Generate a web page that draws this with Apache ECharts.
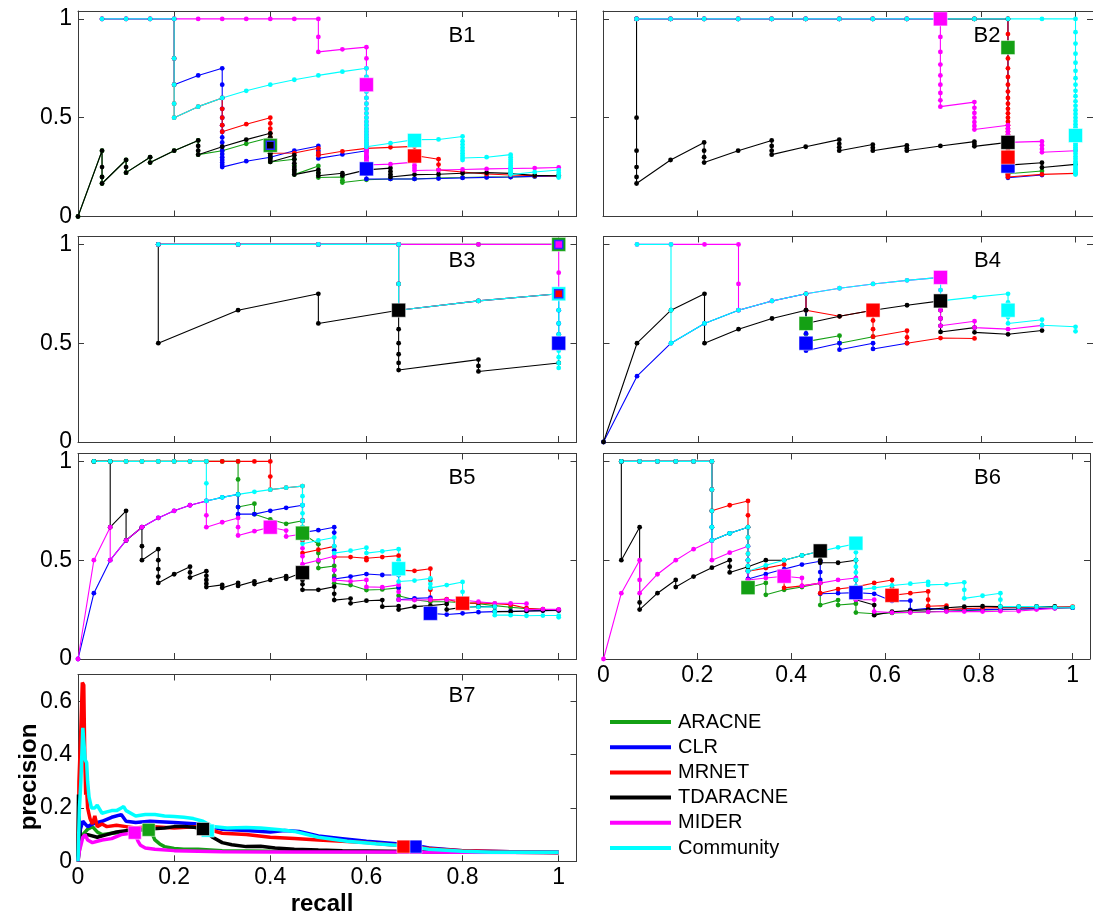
<!DOCTYPE html>
<html><head><meta charset="utf-8">
<script src="https://cdn.jsdelivr.net/npm/echarts@6/dist/echarts.min.js"></script>
<style>html,body{margin:0;padding:0;background:#fff}#c{width:1093px;height:914px}</style>
</head><body><div id="c"></div>
<script>
const METHODS = ['ARACNE','CLR','MRNET','TDARACNE','MIDER','Community'];
const COLORS = ['#14a014','#0000ff','#ff0000','#000000','#ff00ff','#00ffff'];
const PANEL_NAMES = ['B1','B2','B3','B4','B5','B6','B7'];
const X_TITLE = 'recall';
const Y_TITLE = 'precision';

// ---------- B1 ----------
const B1_ARACNE = [[0,0],[0.05,0.333],[0.05,0.2],[0.05,0.167],[0.1,0.286],[0.1,0.222],[0.15,0.3],[0.15,0.273],[0.2,0.333],[0.25,0.385],[0.25,0.313],[0.3,0.333],[0.35,0.368],[0.4,0.4],[0.4,0.36],[0.4,0.32],[0.4,0.296],[0.4,0.276],[0.45,0.29],[0.45,0.26],[0.45,0.237],[0.45,0.212],[0.5,0.256],[0.5,0.222],[0.5,0.197],[0.55,0.2],[0.55,0.183],[0.55,0.172],[0.6,0.186],[0.65,0.19],[0.7,0.19],[0.75,0.195],[0.8,0.197],[0.85,0.2],[0.9,0.2],[0.95,0.203],[1,0.206]];
const B1_CLR = [[0.05,1],[0.1,1],[0.15,1],[0.2,1],[0.2,0.8],[0.2,0.667],[0.25,0.714],[0.3,0.75],[0.3,0.667],[0.3,0.6],[0.3,0.545],[0.3,0.5],[0.3,0.462],[0.3,0.429],[0.3,0.4],[0.3,0.375],[0.3,0.353],[0.3,0.333],[0.3,0.316],[0.3,0.3],[0.3,0.286],[0.3,0.273],[0.3,0.261],[0.3,0.25],[0.35,0.28],[0.4,0.3],[0.45,0.333],[0.5,0.357],[0.5,0.333],[0.5,0.313],[0.5,0.294],[0.55,0.314],[0.6,0.333],[0.6,0.3],[0.6,0.273],[0.6,0.24],[0.6,0.214],[0.6,0.19],[0.65,0.19],[0.7,0.19],[0.75,0.192],[0.8,0.195],[0.85,0.198],[0.9,0.2],[0.95,0.203],[1,0.205]];
const B1_MRNET = [[0.05,1],[0.1,1],[0.15,1],[0.2,1],[0.2,0.8],[0.2,0.667],[0.2,0.571],[0.2,0.5],[0.25,0.556],[0.3,0.6],[0.3,0.545],[0.3,0.5],[0.3,0.462],[0.3,0.429],[0.35,0.467],[0.4,0.5],[0.4,0.471],[0.4,0.444],[0.4,0.421],[0.4,0.4],[0.4,0.381],[0.4,0.364],[0.4,0.348],[0.4,0.333],[0.4,0.32],[0.45,0.321],[0.5,0.345],[0.5,0.323],[0.5,0.31],[0.55,0.33],[0.6,0.345],[0.65,0.35],[0.7,0.355],[0.7,0.333],[0.7,0.309],[0.75,0.29],[0.75,0.263],[0.75,0.236],[0.8,0.225],[0.85,0.215],[0.9,0.21],[0.95,0.207],[1,0.205]];
const B1_TDARACNE = [[0,0],[0.05,0.333],[0.05,0.25],[0.05,0.2],[0.05,0.167],[0.1,0.286],[0.1,0.25],[0.1,0.222],[0.15,0.3],[0.15,0.273],[0.2,0.333],[0.25,0.385],[0.25,0.357],[0.25,0.333],[0.25,0.313],[0.3,0.353],[0.35,0.389],[0.4,0.421],[0.4,0.4],[0.4,0.381],[0.4,0.364],[0.4,0.348],[0.4,0.333],[0.4,0.32],[0.4,0.308],[0.4,0.296],[0.4,0.286],[0.4,0.276],[0.45,0.31],[0.45,0.29],[0.45,0.27],[0.45,0.25],[0.45,0.237],[0.45,0.225],[0.45,0.212],[0.5,0.236],[0.5,0.22],[0.5,0.206],[0.55,0.219],[0.55,0.207],[0.6,0.236],[0.65,0.245],[0.65,0.228],[0.65,0.213],[0.65,0.2],[0.7,0.212],[0.75,0.214],[0.8,0.219],[0.85,0.222],[0.9,0.218],[0.95,0.208],[1,0.206]];
const B1_MIDER = [[0.05,1],[0.1,1],[0.15,1],[0.2,1],[0.25,1],[0.3,1],[0.35,1],[0.4,1],[0.45,1],[0.5,1],[0.5,0.909],[0.5,0.833],[0.55,0.846],[0.6,0.857],[0.6,0.8],[0.6,0.75],[0.6,0.706],[0.6,0.667],[0.6,0.632],[0.6,0.6],[0.6,0.571],[0.6,0.545],[0.6,0.522],[0.6,0.5],[0.6,0.48],[0.6,0.462],[0.6,0.444],[0.6,0.429],[0.6,0.414],[0.6,0.4],[0.6,0.387],[0.6,0.375],[0.6,0.364],[0.6,0.353],[0.6,0.343],[0.6,0.333],[0.6,0.324],[0.6,0.316],[0.6,0.308],[0.6,0.3],[0.6,0.293],[0.6,0.286],[0.6,0.279],[0.6,0.273],[0.6,0.267],[0.6,0.261],[0.6,0.255],[0.65,0.265],[0.7,0.275],[0.7,0.259],[0.7,0.246],[0.7,0.233],[0.75,0.235],[0.8,0.238],[0.85,0.241],[0.9,0.243],[0.95,0.245],[1,0.248]];
const B1_Community = [[0.05,1],[0.1,1],[0.15,1],[0.2,1],[0.2,0.8],[0.2,0.667],[0.2,0.571],[0.2,0.5],[0.25,0.556],[0.3,0.6],[0.35,0.636],[0.4,0.667],[0.45,0.692],[0.5,0.714],[0.55,0.733],[0.6,0.75],[0.6,0.706],[0.6,0.667],[0.6,0.632],[0.6,0.6],[0.6,0.571],[0.6,0.545],[0.6,0.522],[0.6,0.5],[0.6,0.48],[0.6,0.462],[0.6,0.444],[0.6,0.429],[0.6,0.414],[0.6,0.4],[0.6,0.387],[0.6,0.375],[0.6,0.364],[0.6,0.353],[0.65,0.371],[0.7,0.389],[0.75,0.39],[0.8,0.405],[0.8,0.381],[0.8,0.364],[0.8,0.348],[0.8,0.333],[0.8,0.32],[0.8,0.308],[0.8,0.296],[0.8,0.286],[0.85,0.3],[0.9,0.313],[0.9,0.3],[0.9,0.288],[0.9,0.277],[0.9,0.267],[0.9,0.257],[0.9,0.248],[0.9,0.24],[0.9,0.232],[0.9,0.225],[0.9,0.218],[0.9,0.212],[0.95,0.225],[1,0.235],[1,0.222],[1,0.21],[1,0.197]];
const B1_BEST = [[0.4,0.36],[0.6,0.241],[0.7,0.306],[0.4,0.36],[0.6,0.667],[0.7,0.385]];

// ---------- B2 ----------
const B2_ARACNE = [[0.071,1],[0.143,1],[0.214,1],[0.286,1],[0.357,1],[0.429,1],[0.5,1],[0.571,1],[0.643,1],[0.714,1],[0.786,1],[0.857,1],[0.857,0.216],[0.929,0.23]];
const B2_CLR = [[0.071,1],[0.143,1],[0.214,1],[0.286,1],[0.357,1],[0.429,1],[0.5,1],[0.571,1],[0.643,1],[0.714,1],[0.786,1],[0.857,1],[0.857,0.196],[0.929,0.21]];
const B2_MRNET = [[0.071,1],[0.143,1],[0.214,1],[0.286,1],[0.357,1],[0.429,1],[0.5,1],[0.571,1],[0.643,1],[0.714,1],[0.786,1],[0.857,1],[0.857,0.923],[0.857,0.8],[0.857,0.75],[0.857,0.706],[0.857,0.667],[0.857,0.632],[0.857,0.6],[0.857,0.571],[0.857,0.545],[0.857,0.522],[0.857,0.5],[0.857,0.48],[0.857,0.462],[0.857,0.444],[0.857,0.429],[0.857,0.414],[0.857,0.4],[0.857,0.387],[0.857,0.375],[0.857,0.364],[0.857,0.353],[0.857,0.343],[0.857,0.333],[0.857,0.324],[0.857,0.316],[0.857,0.308],[0.857,0.3],[0.857,0.286],[0.857,0.273],[0.857,0.261],[0.857,0.25],[0.857,0.24],[0.857,0.231],[0.857,0.222],[0.857,0.214],[0.857,0.207],[0.857,0.2],[0.929,0.213],[1,0.218]];
const B2_TDARACNE = [[0.071,1],[0.071,0.5],[0.071,0.333],[0.071,0.25],[0.071,0.2],[0.071,0.167],[0.143,0.286],[0.214,0.375],[0.214,0.333],[0.214,0.3],[0.214,0.273],[0.286,0.333],[0.357,0.385],[0.357,0.357],[0.357,0.333],[0.357,0.313],[0.429,0.353],[0.5,0.389],[0.5,0.368],[0.5,0.35],[0.5,0.333],[0.571,0.364],[0.571,0.348],[0.571,0.333],[0.643,0.36],[0.643,0.346],[0.643,0.333],[0.714,0.357],[0.786,0.379],[0.786,0.367],[0.786,0.355],[0.857,0.375],[0.857,0.26],[0.929,0.272],[0.929,0.248],[1,0.264]];
const B2_MIDER = [[0.071,1],[0.143,1],[0.214,1],[0.286,1],[0.357,1],[0.429,1],[0.5,1],[0.571,1],[0.643,1],[0.714,1],[0.714,0.909],[0.714,0.833],[0.714,0.769],[0.714,0.714],[0.714,0.667],[0.714,0.625],[0.714,0.588],[0.714,0.556],[0.786,0.579],[0.786,0.55],[0.786,0.524],[0.786,0.5],[0.786,0.478],[0.786,0.458],[0.786,0.44],[0.857,0.462],[0.857,0.444],[0.857,0.429],[0.857,0.414],[0.857,0.4],[0.857,0.387],[0.857,0.375],[0.929,0.38],[0.929,0.361],[0.929,0.342],[0.929,0.325],[1,0.333]];
const B2_Community = [[0.071,1],[0.143,1],[0.214,1],[0.286,1],[0.357,1],[0.429,1],[0.5,1],[0.571,1],[0.643,1],[0.714,1],[0.786,1],[0.857,1],[0.929,1],[1,1],[1,0.933],[1,0.875],[1,0.824],[1,0.778],[1,0.737],[1,0.7],[1,0.667],[1,0.636],[1,0.609],[1,0.583],[1,0.56],[1,0.538],[1,0.519],[1,0.5],[1,0.483],[1,0.467],[1,0.452],[1,0.438],[1,0.424],[1,0.412],[1,0.4],[1,0.389],[1,0.378],[1,0.368],[1,0.359],[1,0.35],[1,0.341],[1,0.333],[1,0.318],[1,0.304],[1,0.292],[1,0.28],[1,0.269],[1,0.259],[1,0.25],[1,0.241],[1,0.233],[1,0.226],[1,0.219],[1,0.212]];
const B2_BEST = [[0.857,0.855],[0.857,0.255],[0.857,0.3],[0.857,0.375],[0.714,1],[1,0.41]];

// ---------- B3 ----------
const B3_ARACNE = [[0.167,1],[0.333,1],[0.5,1],[0.667,1],[0.833,1],[1,1]];
const B3_CLR = [[0.167,1],[0.333,1],[0.5,1],[0.667,1],[0.667,0.8],[0.667,0.667],[0.833,0.714],[1,0.75],[1,0.667],[1,0.6],[1,0.545],[1,0.5]];
const B3_MRNET = [[0.167,1],[0.333,1],[0.5,1],[0.667,1],[0.667,0.8],[0.667,0.667],[0.833,0.714],[1,0.75]];
const B3_TDARACNE = [[0.167,1],[0.167,0.5],[0.333,0.667],[0.5,0.75],[0.5,0.6],[0.667,0.667],[0.667,0.571],[0.667,0.5],[0.667,0.444],[0.667,0.4],[0.667,0.364],[0.833,0.417],[0.833,0.385],[0.833,0.357],[1,0.4]];
const B3_MIDER = [[0.167,1],[0.333,1],[0.5,1],[0.667,1],[0.833,1],[1,1],[1,0.857],[1,0.75]];
const B3_Community = [[0.167,1],[0.333,1],[0.5,1],[0.667,1],[0.667,0.8],[0.667,0.667],[0.833,0.714],[1,0.75],[1,0.667],[1,0.6],[1,0.545],[1,0.5],[1,0.462],[1,0.429],[1,0.4],[1,0.375]];
const B3_BEST = [[1,1],[1,0.5],[1,0.75],[0.667,0.667],[1,1],[1,0.75]];

// ---------- B4 ----------
const B4_ARACNE = [[0.429,0.75],[0.429,0.667],[0.429,0.6],[0.429,0.545],[0.429,0.508],[0.5,0.538],[0.5,0.5],[0.571,0.533]];
const B4_CLR = [[0,0],[0.071,0.333],[0.143,0.5],[0.214,0.6],[0.286,0.667],[0.357,0.714],[0.429,0.75],[0.429,0.667],[0.429,0.6],[0.429,0.549],[0.429,0.5],[0.429,0.462],[0.5,0.5],[0.5,0.467],[0.571,0.5],[0.571,0.471],[0.643,0.5]];
const B4_MRNET = [[0.429,0.75],[0.429,0.667],[0.5,0.636],[0.571,0.667],[0.571,0.615],[0.571,0.571],[0.571,0.533],[0.643,0.563],[0.643,0.529],[0.643,0.5],[0.714,0.526],[0.786,0.524]];
const B4_TDARACNE = [[0,0],[0.071,0.5],[0.143,0.667],[0.214,0.75],[0.214,0.5],[0.286,0.571],[0.357,0.625],[0.429,0.667],[0.429,0.6],[0.5,0.636],[0.571,0.667],[0.643,0.692],[0.714,0.714],[0.714,0.667],[0.714,0.625],[0.714,0.588],[0.714,0.557],[0.786,0.579],[0.786,0.555],[0.857,0.545],[0.929,0.564]];
const B4_MIDER = [[0.071,1],[0.143,1],[0.214,1],[0.286,1],[0.286,0.8],[0.286,0.667],[0.357,0.714],[0.429,0.75],[0.5,0.778],[0.571,0.8],[0.643,0.818],[0.714,0.833],[0.714,0.769],[0.714,0.714],[0.714,0.667],[0.714,0.625],[0.714,0.588],[0.786,0.611],[0.786,0.579],[0.857,0.571],[0.929,0.59]];
const B4_Community = [[0.071,1],[0.143,1],[0.143,0.667],[0.143,0.5],[0.214,0.6],[0.286,0.667],[0.357,0.714],[0.429,0.75],[0.5,0.778],[0.571,0.8],[0.643,0.818],[0.714,0.833],[0.714,0.769],[0.714,0.714],[0.786,0.733],[0.857,0.75],[0.857,0.706],[0.857,0.667],[0.857,0.632],[0.857,0.6],[0.929,0.619],[0.929,0.591],[1,0.583],[1,0.56]];
const B4_BEST = [[0.429,0.6],[0.429,0.5],[0.571,0.667],[0.714,0.714],[0.714,0.833],[0.857,0.667]];

// ---------- B5 ----------
const B5_ARACNE = [[0.033,1],[0.067,1],[0.1,1],[0.133,1],[0.167,1],[0.2,1],[0.233,1],[0.267,1],[0.3,1],[0.333,1],[0.333,0.909],[0.333,0.833],[0.333,0.769],[0.367,0.786],[0.367,0.733],[0.4,0.706],[0.433,0.684],[0.467,0.7],[0.467,0.667],[0.467,0.636],[0.5,0.581],[0.5,0.536],[0.5,0.493],[0.5,0.46],[0.533,0.471],[0.533,0.42],[0.533,0.383],[0.567,0.374],[0.6,0.349],[0.633,0.352],[0.667,0.36],[0.667,0.32],[0.7,0.3],[0.733,0.29],[0.767,0.29],[0.8,0.285],[0.833,0.28],[0.867,0.27],[0.9,0.262],[0.933,0.255],[0.967,0.25],[1,0.245]];
const B5_CLR = [[0,0],[0.033,0.333],[0.067,0.5],[0.1,0.6],[0.133,0.667],[0.167,0.714],[0.2,0.75],[0.233,0.778],[0.267,0.8],[0.3,0.818],[0.333,0.833],[0.333,0.769],[0.333,0.733],[0.367,0.733],[0.4,0.75],[0.433,0.765],[0.467,0.778],[0.467,0.7],[0.467,0.64],[0.5,0.652],[0.533,0.667],[0.533,0.64],[0.533,0.55],[0.533,0.45],[0.533,0.405],[0.567,0.417],[0.6,0.43],[0.633,0.425],[0.667,0.425],[0.667,0.36],[0.667,0.3],[0.7,0.307],[0.733,0.31],[0.733,0.231],[0.767,0.225],[0.8,0.231],[0.833,0.237],[0.867,0.24],[0.9,0.242],[0.933,0.243],[0.967,0.245],[1,0.246]];
const B5_MRNET = [[0.033,1],[0.067,1],[0.1,1],[0.133,1],[0.167,1],[0.2,1],[0.233,1],[0.267,1],[0.3,1],[0.333,1],[0.367,1],[0.4,1],[0.4,0.923],[0.4,0.857],[0.433,0.867],[0.467,0.875],[0.467,0.7],[0.467,0.6],[0.467,0.536],[0.5,0.553],[0.533,0.57],[0.533,0.516],[0.567,0.516],[0.6,0.51],[0.6,0.5],[0.633,0.516],[0.667,0.523],[0.667,0.45],[0.7,0.446],[0.733,0.457],[0.733,0.4],[0.733,0.35],[0.733,0.298],[0.767,0.303],[0.8,0.282],[0.833,0.284],[0.867,0.28],[0.9,0.275],[0.933,0.257],[0.967,0.252],[1,0.248]];
const B5_TDARACNE = [[0.033,1],[0.067,1],[0.067,0.667],[0.1,0.75],[0.1,0.6],[0.133,0.667],[0.133,0.571],[0.133,0.5],[0.167,0.556],[0.167,0.5],[0.167,0.455],[0.167,0.417],[0.167,0.385],[0.2,0.429],[0.233,0.467],[0.233,0.438],[0.233,0.412],[0.267,0.444],[0.267,0.421],[0.267,0.4],[0.267,0.381],[0.267,0.364],[0.3,0.375],[0.3,0.36],[0.333,0.385],[0.333,0.37],[0.367,0.393],[0.367,0.379],[0.4,0.4],[0.433,0.419],[0.433,0.406],[0.467,0.438],[0.467,0.4],[0.467,0.378],[0.467,0.35],[0.5,0.35],[0.533,0.366],[0.533,0.33],[0.533,0.298],[0.567,0.306],[0.567,0.282],[0.6,0.295],[0.633,0.298],[0.633,0.265],[0.667,0.268],[0.667,0.25],[0.7,0.265],[0.733,0.27],[0.767,0.278],[0.767,0.25],[0.8,0.262],[0.833,0.265],[0.867,0.265],[0.867,0.24],[0.9,0.24],[0.933,0.243],[0.967,0.245],[1,0.248]];
const B5_MIDER = [[0,0],[0.033,0.5],[0.067,0.667],[0.067,0.5],[0.1,0.6],[0.133,0.667],[0.167,0.714],[0.2,0.75],[0.233,0.778],[0.267,0.8],[0.267,0.727],[0.267,0.667],[0.3,0.692],[0.333,0.714],[0.333,0.667],[0.333,0.625],[0.367,0.647],[0.4,0.667],[0.433,0.65],[0.433,0.62],[0.467,0.633],[0.467,0.56],[0.467,0.52],[0.467,0.48],[0.5,0.5],[0.533,0.52],[0.533,0.45],[0.533,0.4],[0.567,0.393],[0.6,0.4],[0.6,0.365],[0.633,0.363],[0.667,0.375],[0.667,0.34],[0.667,0.3],[0.7,0.298],[0.733,0.3],[0.767,0.3],[0.8,0.298],[0.833,0.29],[0.867,0.282],[0.9,0.282],[0.933,0.28],[0.933,0.25],[0.967,0.252],[1,0.251]];
const B5_Community = [[0.033,1],[0.067,1],[0.1,1],[0.133,1],[0.167,1],[0.2,1],[0.233,1],[0.267,1],[0.267,0.889],[0.267,0.8],[0.3,0.818],[0.333,0.833],[0.367,0.846],[0.4,0.857],[0.433,0.867],[0.467,0.875],[0.467,0.824],[0.467,0.778],[0.467,0.737],[0.467,0.7],[0.467,0.667],[0.467,0.636],[0.467,0.609],[0.467,0.583],[0.5,0.6],[0.533,0.615],[0.533,0.571],[0.533,0.536],[0.567,0.548],[0.6,0.563],[0.6,0.536],[0.633,0.545],[0.667,0.556],[0.667,0.5],[0.667,0.457],[0.667,0.426],[0.667,0.392],[0.7,0.397],[0.733,0.408],[0.733,0.38],[0.733,0.36],[0.767,0.374],[0.8,0.39],[0.8,0.34],[0.8,0.3],[0.8,0.265],[0.833,0.263],[0.867,0.265],[0.867,0.24],[0.867,0.222],[0.9,0.222],[0.933,0.219],[0.967,0.22],[1,0.22],[1,0.211]];
const B5_BEST = [[0.467,0.637],[0.733,0.231],[0.8,0.282],[0.467,0.437],[0.4,0.667],[0.667,0.457]];

// ---------- B6 ----------
const B6_ARACNE = [[0.038,1],[0.077,1],[0.115,1],[0.154,1],[0.192,1],[0.231,1],[0.231,0.857],[0.231,0.75],[0.231,0.667],[0.231,0.6],[0.269,0.636],[0.308,0.667],[0.308,0.5],[0.308,0.45],[0.308,0.4],[0.308,0.361],[0.346,0.385],[0.346,0.325],[0.385,0.35],[0.423,0.364],[0.462,0.384],[0.462,0.273],[0.5,0.298],[0.5,0.273],[0.538,0.28],[0.538,0.235],[0.577,0.229],[0.615,0.233],[0.654,0.236],[0.692,0.24],[0.731,0.242],[0.769,0.245],[0.808,0.248],[0.846,0.25],[0.885,0.252],[0.923,0.255],[0.962,0.258],[1,0.26]];
const B6_CLR = [[0.038,1],[0.077,1],[0.115,1],[0.154,1],[0.192,1],[0.231,1],[0.231,0.857],[0.231,0.75],[0.231,0.667],[0.231,0.6],[0.269,0.636],[0.308,0.667],[0.308,0.5],[0.308,0.444],[0.308,0.405],[0.346,0.43],[0.385,0.455],[0.423,0.478],[0.462,0.495],[0.462,0.44],[0.462,0.4],[0.462,0.33],[0.5,0.333],[0.538,0.336],[0.577,0.33],[0.615,0.294],[0.654,0.295],[0.654,0.248],[0.692,0.256],[0.731,0.25],[0.769,0.248],[0.808,0.25],[0.846,0.252],[0.885,0.253],[0.923,0.255],[0.962,0.258],[1,0.26]];
const B6_MRNET = [[0.038,1],[0.077,1],[0.115,1],[0.154,1],[0.192,1],[0.231,1],[0.231,0.857],[0.231,0.75],[0.269,0.778],[0.308,0.8],[0.308,0.727],[0.308,0.667],[0.308,0.615],[0.308,0.571],[0.308,0.533],[0.308,0.5],[0.308,0.471],[0.308,0.444],[0.346,0.46],[0.385,0.478],[0.385,0.42],[0.385,0.36],[0.423,0.37],[0.462,0.384],[0.462,0.333],[0.5,0.354],[0.538,0.365],[0.577,0.385],[0.615,0.4],[0.615,0.36],[0.615,0.322],[0.654,0.333],[0.692,0.342],[0.692,0.3],[0.692,0.267],[0.731,0.27],[0.731,0.25],[0.769,0.255],[0.808,0.258],[0.846,0.26],[0.885,0.26],[0.923,0.262],[0.962,0.264],[1,0.265]];
const B6_TDARACNE = [[0.038,1],[0.038,0.5],[0.077,0.667],[0.077,0.286],[0.077,0.25],[0.115,0.333],[0.154,0.4],[0.154,0.364],[0.192,0.417],[0.231,0.462],[0.269,0.5],[0.269,0.467],[0.269,0.438],[0.308,0.467],[0.346,0.5],[0.385,0.5],[0.423,0.524],[0.462,0.545],[0.462,0.5],[0.462,0.487],[0.5,0.487],[0.538,0.5],[0.538,0.4],[0.538,0.3],[0.577,0.273],[0.577,0.222],[0.615,0.239],[0.654,0.245],[0.692,0.25],[0.731,0.259],[0.769,0.265],[0.808,0.267],[0.846,0.265],[0.885,0.265],[0.923,0.266],[0.962,0.266]];
const B6_MIDER = [[0,0],[0.038,0.333],[0.077,0.5],[0.077,0.4],[0.077,0.333],[0.115,0.429],[0.154,0.5],[0.192,0.556],[0.231,0.6],[0.231,0.5],[0.269,0.538],[0.308,0.571],[0.308,0.5],[0.308,0.444],[0.308,0.4],[0.346,0.41],[0.385,0.419],[0.423,0.41],[0.423,0.37],[0.462,0.384],[0.5,0.4],[0.538,0.41],[0.538,0.35],[0.538,0.3],[0.577,0.3],[0.577,0.24],[0.615,0.235],[0.654,0.235],[0.692,0.238],[0.731,0.24],[0.769,0.24],[0.808,0.24],[0.846,0.242],[0.885,0.243],[0.923,0.25],[0.962,0.256]];
const B6_Community = [[0.038,1],[0.077,1],[0.115,1],[0.154,1],[0.192,1],[0.231,1],[0.231,0.857],[0.231,0.75],[0.231,0.667],[0.231,0.6],[0.269,0.636],[0.308,0.667],[0.308,0.615],[0.308,0.571],[0.308,0.533],[0.308,0.5],[0.308,0.471],[0.308,0.444],[0.346,0.474],[0.385,0.5],[0.423,0.524],[0.462,0.545],[0.5,0.565],[0.538,0.583],[0.538,0.54],[0.538,0.5],[0.538,0.467],[0.538,0.438],[0.538,0.4],[0.538,0.368],[0.538,0.35],[0.577,0.36],[0.615,0.372],[0.654,0.381],[0.692,0.39],[0.692,0.375],[0.731,0.378],[0.769,0.388],[0.769,0.35],[0.769,0.307],[0.808,0.32],[0.846,0.333],[0.846,0.3],[0.846,0.265],[0.885,0.265],[0.923,0.265],[0.962,0.262],[1,0.262]];
const B6_BEST = [[0.308,0.361],[0.538,0.336],[0.615,0.322],[0.462,0.547],[0.385,0.419],[0.538,0.586]];

// ---------- B7 ----------
const B7_ARACNE = [[0,0],[0.005,0.07],[0.01,0.1],[0.02,0.12],[0.03,0.13],[0.04,0.11],[0.05,0.1],[0.07,0.105],[0.1,0.11],[0.12,0.115],[0.147,0.118],[0.155,0.1],[0.16,0.08],[0.17,0.065],[0.18,0.055],[0.2,0.048],[0.22,0.045],[0.25,0.045],[0.3,0.04],[0.4,0.038],[0.6,0.036],[0.8,0.035],[1,0.033]];
const B7_CLR = [[0,0],[0.005,0.12],[0.01,0.15],[0.02,0.13],[0.03,0.14],[0.05,0.15],[0.07,0.165],[0.09,0.175],[0.1,0.15],[0.12,0.145],[0.15,0.15],[0.2,0.145],[0.25,0.14],[0.3,0.12],[0.35,0.115],[0.4,0.11],[0.43,0.115],[0.46,0.112],[0.5,0.095],[0.55,0.085],[0.6,0.075],[0.65,0.068],[0.7,0.06],[0.73,0.05],[0.8,0.04],[0.9,0.036],[1,0.034]];
const B7_MRNET = [[0,0],[0.002,0.3],[0.006,0.5],[0.009,0.67],[0.012,0.66],[0.014,0.4],[0.016,0.25],[0.018,0.27],[0.02,0.2],[0.025,0.16],[0.03,0.14],[0.035,0.17],[0.04,0.13],[0.05,0.14],[0.06,0.13],[0.08,0.135],[0.1,0.13],[0.12,0.125],[0.15,0.13],[0.2,0.125],[0.25,0.13],[0.3,0.105],[0.35,0.1],[0.4,0.09],[0.45,0.085],[0.5,0.08],[0.55,0.075],[0.6,0.07],[0.65,0.062],[0.68,0.058],[0.72,0.05],[0.75,0.045],[0.8,0.04],[0.9,0.036],[1,0.033]];
const B7_TDARACNE = [[0,0],[0.001,0.25],[0.002,0.2],[0.003,0.12],[0.006,0.08],[0.01,0.09],[0.02,0.1],[0.04,0.09],[0.06,0.1],[0.08,0.11],[0.1,0.115],[0.14,0.12],[0.18,0.125],[0.2,0.13],[0.22,0.13],[0.24,0.128],[0.26,0.12],[0.28,0.09],[0.3,0.07],[0.32,0.062],[0.35,0.055],[0.38,0.056],[0.41,0.05],[0.45,0.045],[0.5,0.042],[0.55,0.04],[0.65,0.038],[0.8,0.035],[1,0.033]];
const B7_MIDER = [[0,0],[0.003,0.04],[0.006,0.06],[0.01,0.09],[0.015,0.1],[0.02,0.08],[0.03,0.07],[0.04,0.075],[0.05,0.08],[0.07,0.085],[0.09,0.1],[0.11,0.105],[0.118,0.105],[0.125,0.075],[0.13,0.06],[0.14,0.05],[0.16,0.045],[0.2,0.04],[0.25,0.038],[0.3,0.036],[0.4,0.035],[0.5,0.035],[0.6,0.035],[0.8,0.034],[1,0.033]];
const B7_Community = [[0,0],[0.003,0.2],[0.006,0.3],[0.01,0.5],[0.012,0.45],[0.015,0.38],[0.018,0.37],[0.02,0.3],[0.023,0.24],[0.028,0.2],[0.035,0.2],[0.04,0.21],[0.05,0.18],[0.06,0.185],[0.07,0.19],[0.08,0.19],[0.09,0.2],[0.095,0.205],[0.1,0.19],[0.12,0.17],[0.14,0.175],[0.16,0.175],[0.18,0.17],[0.2,0.168],[0.22,0.165],[0.24,0.16],[0.26,0.15],[0.28,0.13],[0.31,0.125],[0.35,0.127],[0.38,0.125],[0.42,0.118],[0.45,0.112],[0.5,0.09],[0.56,0.075],[0.62,0.066],[0.69,0.056],[0.73,0.045],[0.8,0.038],[0.86,0.034],[1,0.034]];
const B7_BEST = [[0.147,0.118],[0.702,0.055],[0.677,0.055],[0.26,0.121],[0.118,0.107],[0.27,0.115]];

const PANEL_LINES = [
  [B1_ARACNE,B1_CLR,B1_MRNET,B1_TDARACNE,B1_MIDER,B1_Community],
  [B2_ARACNE,B2_CLR,B2_MRNET,B2_TDARACNE,B2_MIDER,B2_Community],
  [B3_ARACNE,B3_CLR,B3_MRNET,B3_TDARACNE,B3_MIDER,B3_Community],
  [B4_ARACNE,B4_CLR,B4_MRNET,B4_TDARACNE,B4_MIDER,B4_Community],
  [B5_ARACNE,B5_CLR,B5_MRNET,B5_TDARACNE,B5_MIDER,B5_Community],
  [B6_ARACNE,B6_CLR,B6_MRNET,B6_TDARACNE,B6_MIDER,B6_Community],
  [B7_ARACNE,B7_CLR,B7_MRNET,B7_TDARACNE,B7_MIDER,B7_Community]
];
const PANEL_BEST = [B1_BEST,B2_BEST,B3_BEST,B4_BEST,B5_BEST,B6_BEST,B7_BEST];

// ---------- layout (styles only) ----------
const FONT = "'Liberation Sans', Arial, Helvetica, sans-serif";
const AX = '#3a3a3a';
const PW = 498.5;
const LAYOUT = [
  {left:78,   top:11,    h:205.5, xl:false, yl:true},
  {left:603,  top:11,    h:205.5, xl:false, yl:false},
  {left:78,   top:236.5, h:205.5, xl:false, yl:true},
  {left:603.5,top:236.5, h:205.5, xl:false, yl:false},
  {left:78,   top:453.5, h:205.5, xl:false, yl:true},
  {left:603.5,top:453.5, h:205.5, xl:true,  yl:false},
  {left:78,   top:674.5, h:186.8, xl:true,  yl:true}
];

const grid=[], xAxis=[], yAxis=[], series=[], graphic=[];
const fmt = lim => v => (v > lim + 1e-6) ? '' : String(Math.round(v*10)/10);

PANEL_LINES.forEach((lines, i) => {
  const L = LAYOUT[i];
  const b7 = i === 6;
  const yMax = b7 ? 0.7 : 1.04, yInt = b7 ? 0.2 : 0.5, yLast = b7 ? 0.6 : 1;
  grid.push({left:L.left, top:L.top, width:PW, height:L.h});
  const line = {show:true, onZero:false, lineStyle:{color:AX, width:1}};
  const tick = {show:true, inside:true, length:6, lineStyle:{color:AX, width:1}};
  const lab = (show, f, mg) => ({show, formatter:f, color:'#000', fontSize:23, fontFamily:FONT, margin:mg});
  const xBase = {type:'value', gridIndex:i, min:0, max:1.037, interval:0.2, axisLine:line, axisTick:tick, splitLine:{show:false}};
  xAxis.push(Object.assign({}, xBase, {position:'bottom', axisLabel:lab(L.xl, fmt(1), 5)}));
  xAxis.push(Object.assign({}, xBase, {position:'top', axisLabel:{show:false}}));
  const yBase = {type:'value', gridIndex:i, min:0, max:yMax, interval:yInt, axisLine:line, axisTick:tick, splitLine:{show:false}};
  yAxis.push(Object.assign({}, yBase, {position:'left', axisLabel:lab(L.yl, fmt(yLast), 6)}));
  yAxis.push(Object.assign({}, yBase, {position:'right', axisLabel:{show:false}}));

  lines.forEach((d, m) => {
    series.push({
      type:'line', name:METHODS[m], xAxisIndex:2*i, yAxisIndex:2*i, data:d,
      symbol: b7 ? 'none' : 'circle', symbolSize: 4.8, showSymbol: !b7,
      lineStyle:{color:COLORS[m], width: b7 ? 3.5 : 1.1},
      itemStyle:{color:COLORS[m], opacity:1}, animation:false, silent:true, z:2
    });
  });

  // best-point squares: big ones first (TDARACNE last), then small inner ones where two coincide
  const best = PANEL_BEST[i];
  const order = [0,1,2,4,5,3];
  const isInner = m => [2,3,4].includes(m) && best.some((q,k) => k!==m && [0,5].includes(k) && q[0]===best[m][0] && q[1]===best[m][1]);
  const big = order.filter(m => !isInner(m));
  const small = order.filter(m => isInner(m));
  big.concat(small).forEach(m => {
    const inner = isInner(m);
    series.push({
      type:'scatter', name:METHODS[m], xAxisIndex:2*i, yAxisIndex:2*i, data:[best[m]],
      symbol:'rect', symbolSize: inner ? 8 : (b7 ? 13 : 14),
      itemStyle:{color:COLORS[m], opacity:1, borderColor: inner ? '#2a2aff' : 'rgba(255,255,255,0.5)', borderWidth: inner ? 1.5 : 1},
      animation:false, silent:true, z: inner ? 6 : 5
    });
  });

  graphic.push({type:'text', x:L.left + 384, y:L.top + (b7 ? 21 : 24.5),
    style:{text:PANEL_NAMES[i], font:'22px ' + FONT, fill:'#000', align:'center', verticalAlign:'middle'}, silent:true});
});

graphic.push({type:'text', x:322, y:904, style:{text:X_TITLE, font:'bold 24px ' + FONT, fill:'#000', align:'center', verticalAlign:'middle'}});
graphic.push({type:'text', x:29, y:777, rotation:Math.PI/2, style:{text:Y_TITLE, font:'bold 24px ' + FONT, fill:'#000', align:'center', verticalAlign:'middle'}});

const chart = echarts.init(document.getElementById('c'), null, {renderer:'canvas'});
chart.setOption({
  backgroundColor:'#ffffff',
  animation:false,
  grid, xAxis, yAxis, series, graphic,
  legend:{data:METHODS, orient:'vertical', left:605, top:707, icon:'rect', itemWidth:61, itemHeight:4, itemGap:5.2,
    selectedMode:false, textStyle:{fontSize:20, color:'#000', fontFamily:FONT, lineHeight:20, padding:[0,0,0,2]}}
});
</script></body></html>
